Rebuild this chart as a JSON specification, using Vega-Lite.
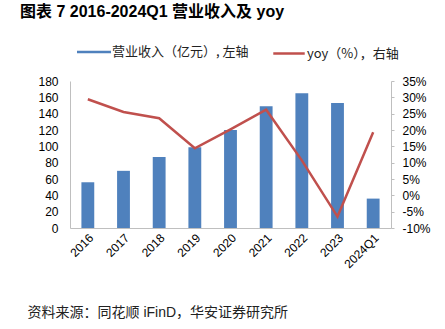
{
  "$schema": "https://vega.github.io/schema/vega-lite/v6.json",
  "padding": {"left": 18, "top": 3, "right": 0, "bottom": 0},
  "width": 321,
  "height": 147,
  "title": {"text": "图表 7 2016-2024Q1 营业收入及 yoy", "anchor": "start", "frame": "bounds", "fontSize": 16, "fontWeight": "bold", "font": "Liberation Sans, Noto Sans CJK SC", "color": "#000", "offset": 24, "dx": 2},
  "config": {"view": {"stroke": null}, "font": "Liberation Sans"},
  "data": {"values": [
    {"period": "2016", "revenue": 56, "yoy": 29.4},
    {"period": "2017", "revenue": 70, "yoy": 25.5},
    {"period": "2018", "revenue": 87, "yoy": 23.6},
    {"period": "2019", "revenue": 99, "yoy": 14.4},
    {"period": "2020", "revenue": 120, "yoy": 20.2},
    {"period": "2021", "revenue": 149, "yoy": 26.2},
    {"period": "2022", "revenue": 165, "yoy": 10.7},
    {"period": "2023", "revenue": 153, "yoy": -6.5},
    {"period": "2024Q1", "revenue": 36, "yoy": 19.3}
  ]},
  "encoding": {
    "x": {
      "field": "period", "type": "ordinal", "sort": null,
      "scale": {"paddingInner": 0.64, "paddingOuter": 0.32},
      "axis": {
        "title": "资料来源：同花顺 iFinD，华安证券研究所",
        "titleFont": "Liberation Sans, Noto Sans CJK SC", "titleFontSize": 14, "titleFontWeight": "normal", "titleColor": "#222",
        "titleAlign": "left", "titleAnchor": "start", "titleBaseline": "middle", "titleX": -43, "titleY": 84,
        "labelAngle": -45, "labelFontSize": 12, "labelColor": "#000", "domainColor": "#bfbfbf", "ticks": false, "labelPadding": 4
      }
    }
  },
  "layer": [
    {
      "mark": {"type": "bar", "fill": "#4F81BD"},
      "encoding": {
        "y": {"field": "revenue", "type": "quantitative", "scale": {"domain": [0, 180], "nice": false},
          "axis": {"title": null, "values": [0, 20, 40, 60, 80, 100, 120, 140, 160, 180], "ticks": false, "grid": false, "labelFontSize": 12, "labelColor": "#000", "domainColor": "#bfbfbf", "labelPadding": 12, "minExtent": 52, "maxExtent": 52}},
        "fill": {"datum": "营业收入（亿元）, 左轴", "type": "nominal", "scale": {"range": ["#4F81BD"]},
          "legend": {"orient": "none", "legendX": 15.5, "legendY": -37.5, "direction": "horizontal", "title": null, "symbolType": "M-2,-0.16H2V0.16H-2Z", "symbolSize": 289, "symbolStrokeWidth": 0, "labelFont": "Noto Sans CJK SC", "labelFontSize": 13, "labelColor": "#222", "labelOffset": 9.5}}
      }
    },
    {
      "mark": {"type": "line", "strokeWidth": 2.5},
      "encoding": {
        "y": {"field": "yoy", "type": "quantitative", "scale": {"domain": [-10, 35], "nice": false},
          "axis": {"orient": "right", "title": null, "values": [-10, -5, 0, 5, 10, 15, 20, 25, 30, 35], "labelExpr": "datum.value + '%'", "ticks": true, "tickSize": 3, "tickColor": "#bfbfbf", "grid": false, "labelFontSize": 12, "labelColor": "#000", "domainColor": "#bfbfbf", "labelPadding": 8, "minExtent": 41, "maxExtent": 41}},
        "stroke": {"datum": "yoy（%），右轴", "type": "nominal", "scale": {"range": ["#C0504D"]},
          "legend": {"orient": "none", "legendX": 209, "legendY": -37.5, "direction": "horizontal", "title": null, "symbolType": "M-1.85,0L1.85,0", "symbolSize": 289, "symbolStrokeWidth": 2.5, "labelFont": "Noto Sans CJK SC", "labelFontSize": 13, "labelColor": "#222", "labelOffset": 8}}
      }
    }
  ],
  "resolve": {"scale": {"y": "independent", "fill": "independent", "stroke": "independent"}}
}
